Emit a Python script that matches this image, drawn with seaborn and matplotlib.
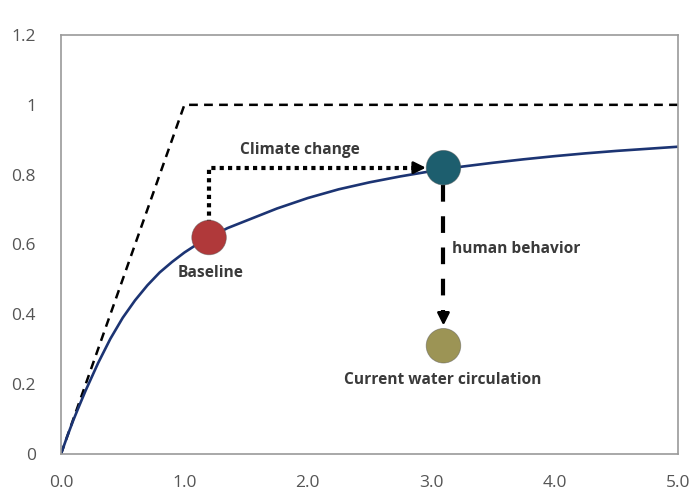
import matplotlib
matplotlib.use("Agg")
import matplotlib.pyplot as plt
import seaborn as sns
import pandas as pd

# --- data ---
curve_x = [0, 0.05, 0.1, 0.15, 0.2, 0.3, 0.4, 0.5, 0.6, 0.7, 0.8, 0.9, 1.0, 1.1, 1.2,
           1.35, 1.5, 1.75, 2.0, 2.25, 2.5, 2.75, 3.0, 3.25, 3.5, 3.75, 4.0, 4.25,
           4.5, 4.75, 5.0]
curve_y = [0, 0.05, 0.097, 0.14, 0.182, 0.26, 0.33, 0.39, 0.44, 0.483, 0.52, 0.55,
           0.577, 0.6, 0.62, 0.647, 0.668, 0.703, 0.733, 0.758, 0.778, 0.795, 0.81,
           0.823, 0.834, 0.844, 0.853, 0.861, 0.868, 0.874, 0.88]

limit_x = [0, 1.0, 5.0]
limit_y = [0, 1.0, 1.0]

point_names = ["Baseline", "Climate", "Current"]
point_x = [1.2, 3.1, 3.1]
point_y = [0.62, 0.82, 0.31]
point_colors = ["#B0393A", "#1D5E6E", "#9C9455"]

x_ticks = [0, 1, 2, 3, 4, 5]
x_labels = ["0.0", "1.0", "2.0", "3.0", "4.0", "5.0"]
y_ticks = [0, 0.2, 0.4, 0.6, 0.8, 1.0, 1.2]
y_labels = ["0", "0.2", "0.4", "0.6", "0.8", "1", "1.2"]

sns.set_theme(style="white")
plt.rcParams["font.family"] = ["Open Sans", "DejaVu Sans"]

fig = plt.figure(figsize=(6.91, 4.91), dpi=100)
ax = fig.add_axes([0.0883, 0.0754, 0.8927, 0.8533])

curve_df = pd.DataFrame({"x": curve_x, "y": curve_y})
limit_df = pd.DataFrame({"x": limit_x, "y": limit_y})
pts_df = pd.DataFrame({"name": point_names, "x": point_x, "y": point_y})

sns.lineplot(data=limit_df, x="x", y="y", ax=ax, color="black", linewidth=1.8,
             sort=False, estimator=None)
ax.lines[-1].set_dashes((3.5, 2.5))
sns.lineplot(data=curve_df, x="x", y="y", ax=ax, color="#1C3473", linewidth=1.9,
             sort=False, estimator=None)

# climate change path: dotted up then right
bx, by = point_x[0], point_y[0]
cx, cy = point_x[1], point_y[1]
ax.plot([bx, bx, cx - 0.2], [by + 0.04, cy, cy], color="black", linewidth=3,
        linestyle=(0, (1, 1)), dash_capstyle="butt")
ax.annotate("", xy=(cx - 0.12, cy), xytext=(cx - 0.25, cy),
            arrowprops=dict(arrowstyle="-|>,head_length=0.6,head_width=0.3",
                            color="black", lw=2))

# human behavior: dashed down
ox, oy = point_x[2], point_y[2]
ax.plot([cx, cx], [cy - 0.05, oy + 0.1], color="black", linewidth=3,
        linestyle=(0, (4, 3.5)), dash_capstyle="butt")
ax.annotate("", xy=(ox, oy + 0.05), xytext=(ox, oy + 0.1),
            arrowprops=dict(arrowstyle="-|>,head_length=0.6,head_width=0.3",
                            color="black", lw=2))

sns.scatterplot(data=pts_df, x="x", y="y", hue="name", palette=point_colors,
                s=620, ax=ax, legend=False, zorder=5, edgecolor="#55555580", linewidth=0.6)

txt = dict(color="#3A3A3A", fontweight="bold", fontsize=11.2)
ax.text(1.94, 0.871, "Climate change", ha="center", va="center", **txt)
ax.text(1.21, 0.519, "Baseline", ha="center", va="center", **txt)
ax.text(3.17, 0.587, "human behavior", ha="left", va="center", **txt)
ax.text(3.09, 0.212, "Current water circulation", ha="center", va="center", **txt)

ax.set_xlim(0, 5)
ax.set_ylim(0, 1.2)
ax.set_xticks(x_ticks)
ax.set_xticklabels(x_labels)
ax.set_yticks(y_ticks)
ax.set_yticklabels(y_labels)
ax.set_xlabel("")
ax.set_ylabel("")
ax.tick_params(axis="both", length=0, labelsize=12.5, labelcolor="#555555")
ax.tick_params(axis="y", pad=18)
ax.tick_params(axis="x", pad=15)
for s in ax.spines.values():
    s.set_color("#9A9A9A")
    s.set_linewidth(1.2)

fig.savefig("out.png", dpi=100)
